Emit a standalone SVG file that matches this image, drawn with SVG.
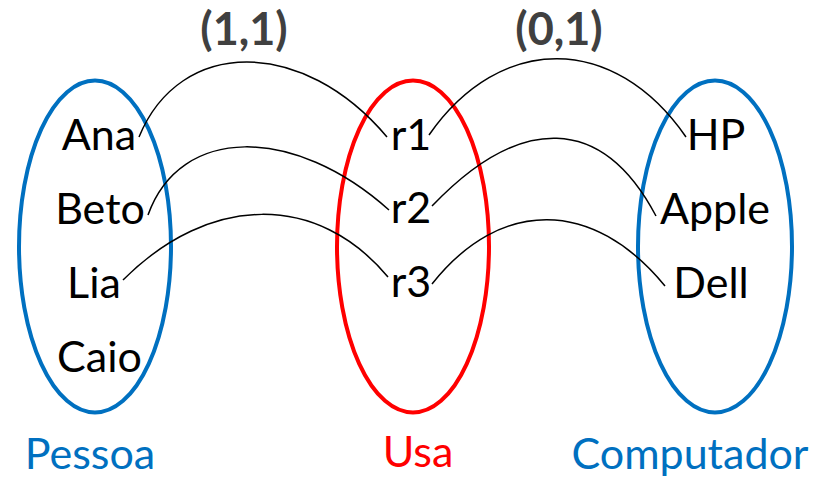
<svg xmlns="http://www.w3.org/2000/svg" width="815" height="477" viewBox="0 0 815 477">
<style>
.set{fill:none;stroke-width:4}
.blue{stroke:#0070C0}
.red{stroke:#FF0000}
.t{font-family:Lato,"Liberation Sans",sans-serif;font-size:43px;fill:#000;text-anchor:middle}
.lb{fill:#0070C0}
.lr{fill:#FF0000}
.card{font-family:Lato,"Liberation Sans",sans-serif;font-size:45px;font-weight:bold;fill:#404040;text-anchor:middle}
.c{fill:none;stroke:#000;stroke-width:1.5}
</style>
<rect width="815" height="477" fill="#fff"/>
<g id="pessoa">
<ellipse class="set blue" cx="95" cy="246.5" rx="76" ry="166"/>
<text class="t lb" x="90" y="469">Pessoa</text>
</g>
<g id="usa">
<ellipse class="set red" cx="413" cy="246.5" rx="76" ry="166"/>
<text class="t lr" x="418" y="467">Usa</text>
</g>
<g id="computador">
<ellipse class="set blue" cx="715" cy="246.5" rx="77" ry="166"/>
<text class="t lb" x="690" y="469">Computador</text>
</g>
<g id="ana"><text class="t" x="99" y="150">Ana</text></g>
<g id="beto"><text class="t" x="100" y="224">Beto</text></g>
<g id="lia"><text class="t" x="94" y="298">Lia</text></g>
<g id="caio"><text class="t" x="99.5" y="372">Caio</text></g>
<g id="r1"><text class="t" x="411" y="150">r1</text></g>
<g id="r2"><text class="t" x="411" y="223">r2</text></g>
<g id="r3"><text class="t" x="411" y="297">r3</text></g>
<g id="hp"><text class="t" x="716" y="150">HP</text></g>
<g id="apple"><text class="t" x="715" y="224">Apple</text></g>
<g id="dell"><text class="t" x="711" y="298">Dell</text></g>
<g id="connectors">
<path class="c" d="M139,137 C180,37 303,37 387,137"/>
<path class="c" d="M148,215 C180,125 294,125 389,210"/>
<path class="c" d="M123,280 C210,193 318,193 388,277"/>
<path class="c" d="M429,135 C500,33 614,33 686,137"/>
<path class="c" d="M432,206 C520,114 602,114 656,216"/>
<path class="c" d="M432,284 C500,198 593,198 665,286"/>
</g>
<g id="labels">
<text class="card" x="244" y="45">(1,1)</text>
<text class="card" x="559" y="45">(0,1)</text>
</g>
</svg>
